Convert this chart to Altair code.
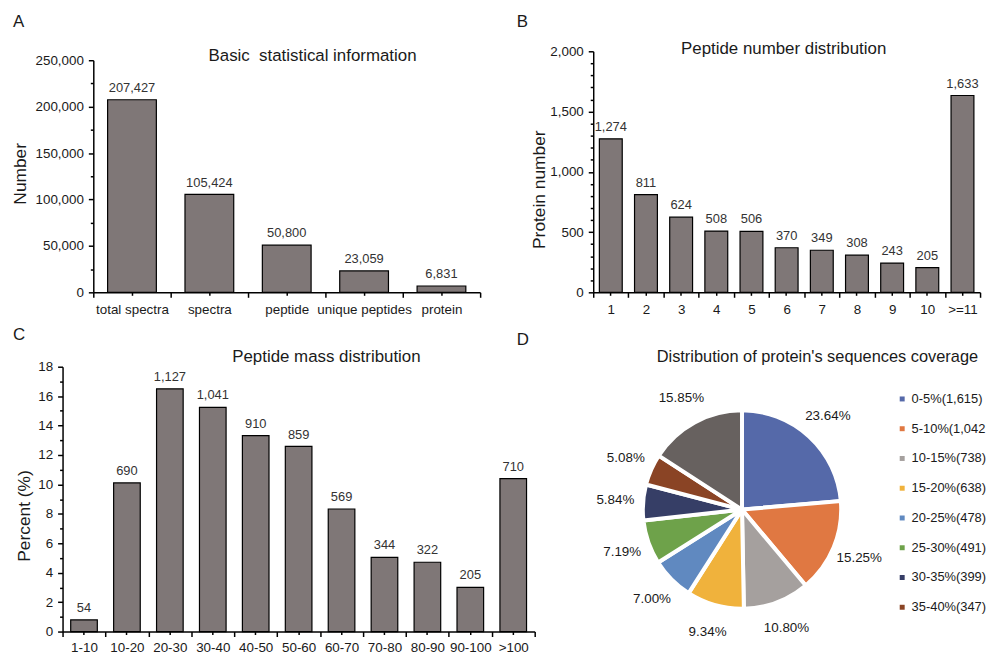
import altair as alt
import pandas as pd

FONT = "Liberation Sans"
BAR_FILL = "#7f7777"
INK = "#1a1a1a"

# ---------------- data ----------------
a_categories = ["total spectra", "spectra", "peptide", "unique peptides", "protein"]
a_values = [207427, 105424, 50800, 23059, 6831]

b_categories = ["1", "2", "3", "4", "5", "6", "7", "8", "9", "10", ">=11"]
b_values = [1274, 811, 624, 508, 506, 370, 349, 308, 243, 205, 1633]

c_categories = ["1-10", "10-20", "20-30", "30-40", "40-50", "50-60",
                "60-70", "70-80", "80-90", "90-100", ">100"]
c_percent = [0.79, 10.10, 16.50, 15.24, 13.32, 12.58, 8.33, 5.04, 4.71, 3.00, 10.39]
c_counts = [54, 690, 1127, 1041, 910, 859, 569, 344, 322, 205, 710]

d_categories = ["0-5%(1,615)", "5-10%(1,042)", "10-15%(738)", "15-20%(638)",
                "20-25%(478)", "25-30%(491)", "30-35%(399)", "35-40%(347)",
                ">40%(1,083)"]
d_counts = [1615, 1042, 738, 638, 478, 491, 399, 347, 1083]
d_labels = ["23.64%", "15.25%", "10.80%", "9.34%", "7.00%", "7.19%",
            "5.84%", "5.08%", "15.85%"]
d_colors = ["#5569a9", "#e07842", "#a5a09e", "#f0b23c", "#6089c0",
            "#6ea24a", "#363e66", "#8a4425", "#67615f"]


def note(text, x, y, size, align="center"):
    return alt.Chart(pd.DataFrame({"t": [text]})).mark_text(
        align=align, baseline="middle", fontSize=size, font=FONT, color=INK
    ).encode(text="t:N", x=alt.value(x), y=alt.value(y))


def bar_panel(cats, vals, labels, width, height, ymax, tick_step, label_step,
              ytitle, title_x, title_y, title_text, title_pos, letter, letter_pos,
              band=0.63, xrange=None, yrange=None, yoffset=0, xlabel_pad=5):
    df = pd.DataFrame({"cat": cats, "val": vals, "lab": labels})
    if yrange is not None:
        yscale = alt.Scale(domain=[0, ymax], nice=False, zero=True, range=yrange)
    else:
        yscale = alt.Scale(domain=[0, ymax], nice=False, zero=True)
    yenc = alt.Y(
        "val:Q",
        scale=yscale,
        axis=alt.Axis(
            values=list(range(0, ymax + 1, tick_step)),
            labelExpr=f"datum.value % {label_step} == 0 ? format(datum.value, ',') : ''",
            tickSize={"condition": {"test": f"datum.value % {label_step} == 0", "value": 5},
                      "value": 3},
            labelPadding=5, grid=False, title=ytitle, titleX=title_x, titleY=title_y,
            titleFontSize=17.5, titleFontWeight="normal", titleColor=INK,
            offset=yoffset,
        ),
    )
    if xrange is not None:
        xscale = alt.Scale(paddingInner=0, paddingOuter=0, range=xrange)
    else:
        xscale = alt.Scale(paddingInner=0, paddingOuter=0)
    bars = alt.Chart(df).mark_bar(
        width=alt.RelativeBandSize(band), fill=BAR_FILL, stroke="black", strokeWidth=1.2
    ).encode(
        x=alt.X("cat:N", sort=cats, scale=xscale,
                axis=alt.Axis(orient="bottom", title=None, labelAngle=0, tickBand="extent",
                              tickSize=5, labelPadding=xlabel_pad, grid=False)),
        y=yenc,
    )
    texts = alt.Chart(df).mark_text(
        baseline="bottom", dy=-5, fontSize=13, font=FONT, color="#333333"
    ).encode(
        x=alt.X("cat:N", sort=cats, scale=xscale,
                axis=alt.Axis(orient="bottom", title=None, labels=False, domain=False,
                              tickBand="center", tickSize=3, grid=False)),
        y=yenc,
        text=alt.Text("lab:Q", format=","),
    )
    return alt.layer(
        bars, texts,
        note(title_text, title_pos[0], title_pos[1], 17),
        note(letter, letter_pos[0], letter_pos[1], 17, align="left"),
    ).resolve_axis(x="independent").properties(width=width, height=height)


# panel A shares its left edge with C and its top edge with B, so its axes are
# placed inside a larger view through the scale ranges
panel_a = bar_panel(a_categories, a_values, a_values, 421, 243, 250000, 25000, 50000,
                    "Number", -64, 123, "Basic\u00a0 statistical information", (252, 5),
                    "A", (-50, -30), xrange=[31, 421], yrange=[243, 9], yoffset=-31)
panel_b = bar_panel(b_categories, b_values, b_values, 390, 243, 2000, 100, 500,
                    "Protein number", -45, 139, "Peptide number distribution", (192, -2),
                    "B", (-77, -30), band=0.65)
panel_c = bar_panel(c_categories, c_percent, c_counts, 476, 267, 18, 1, 2,
                    "Percent (%)", -29, 150, "Peptide mass distribution", (266, -10),
                    "C", (-50, -32), band=0.62, xlabel_pad=4)

# ---------------- pie ----------------
df_d = pd.DataFrame({"cat": d_categories, "count": d_counts, "lab": d_labels,
                     "i": list(range(len(d_categories)))})
arcs = alt.Chart(df_d).mark_arc(radius=100, stroke="white", strokeWidth=4).encode(
    theta=alt.Theta("count:Q", stack=True),
    order=alt.Order("i:Q", sort="ascending"),
    color=alt.Color(
        "cat:N", sort=d_categories,
        scale=alt.Scale(domain=d_categories, range=d_colors),
        legend=alt.Legend(values=d_categories[:8], title=None, orient="none",
                          legendX=305, legendY=26, symbolType="square", symbolSize=25,
                          symbolStrokeWidth=0, labelFontSize=13, labelFont=FONT,
                          labelColor=INK, rowPadding=16, labelOffset=3, labelLimit=200,
                          labelExpr="length(datum.label) > 11 ? slice(datum.label, 0, 11) : datum.label"),
    ),
)
pie_text = alt.Chart(df_d).mark_text(radius=128, fontSize=13.5, font=FONT, color=INK).encode(
    theta=alt.Theta("count:Q", stack=True),
    order=alt.Order("i:Q", sort="ascending"),
    text="lab:N",
)
panel_d = alt.layer(
    arcs, pie_text,
    note("Distribution of protein's sequences coverage", 226, -10, 16.5),
    note("D", -77, -27, 17, align="left"),
).properties(width=300, height=288)

chart = alt.concat(
    panel_a, panel_b, panel_c, panel_d,
    columns=2, spacing={"row": 10, "column": -19}, align="each", bounds="full",
).resolve_scale(color="independent").properties(
    padding={"left": 4, "top": 2, "right": 0, "bottom": 0}
).configure_view(stroke=None).configure_axis(
    labelFont=FONT, titleFont=FONT, labelFontSize=13.5, labelColor=INK,
    domainColor="black", domainWidth=1.5, tickColor="black", tickWidth=1.5,
)

chart.save("out.html", embed_options={"renderer": "svg", "actions": False})
